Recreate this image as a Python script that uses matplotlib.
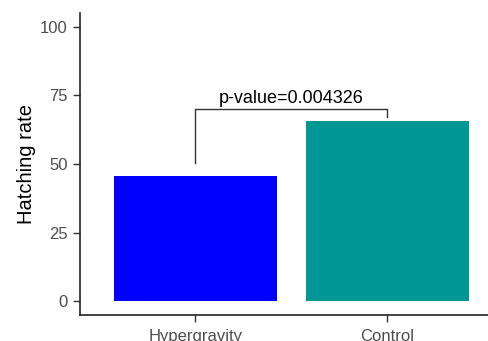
import matplotlib
matplotlib.use("Agg")
import matplotlib.pyplot as plt

# Data
groups = ["Hypergravity", "Control"]
rates = [45.5, 65.6]
colors = ["#0000FF", "#009794"]
p_label = "p-value=0.004326"
bracket_left = 50.4    # height of left leg bottom
bracket_top = 69.9     # bracket bar height
bracket_right = 67.2   # height of right leg bottom

plt.rcParams['font.family'] = ['Liberation Sans', 'DejaVu Sans']

fig = plt.figure(figsize=(4.89, 3.41), dpi=100)
ax = fig.add_axes([80 / 489, 1 - 315 / 341, 1 - 80 / 489, (315 - 13) / 341])

x = [1, 2]
ax.bar(x, rates, width=0.85, color=colors, zorder=2)

# Significance bracket
ax.plot([1, 1, 2, 2], [bracket_left, bracket_top, bracket_top, bracket_right],
        color="#333333", lw=1.0, zorder=3)
ax.text(1.5, bracket_top + 0.8, p_label, ha="center", va="bottom",
        fontsize=13, color="black")

ax.set_xlim(0.4, 2.53)
ax.set_ylim(-5, 105)
ax.set_xticks(x)
ax.set_xticklabels(groups)
ax.set_yticks([0, 25, 50, 75, 100])
ax.set_ylabel("Hatching rate", fontsize=14.5, color="black", labelpad=2.5)

for side in ["top", "right"]:
    ax.spines[side].set_visible(False)
for side in ["left", "bottom"]:
    ax.spines[side].set_color("#222222")
    ax.spines[side].set_linewidth(1.2)
ax.tick_params(axis="both", colors="#333333", labelcolor="#4D4D4D",
               labelsize=12, length=5, width=1)
ax.tick_params(axis="x", pad=5)
ax.tick_params(axis="y", pad=4)

fig.savefig("out.png", dpi=100)
